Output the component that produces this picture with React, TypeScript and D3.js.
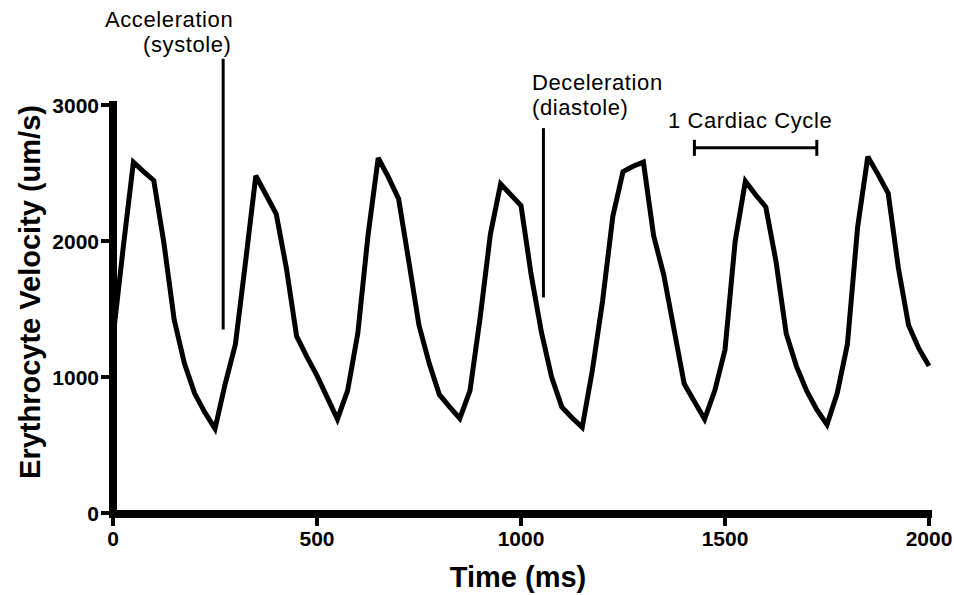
import React from "react";
import * as d3 from "d3";

const timeMs: number[] = [
  0, 25, 50, 75, 100, 125, 150, 175, 200, 225, 250, 275, 300, 325, 350, 375, 400, 425, 450, 475,
  500, 525, 550, 575, 600, 625, 650, 675, 700, 725, 750, 775, 800, 825, 850, 875, 900, 925, 950, 975,
  1000, 1025, 1050, 1075, 1100, 1125, 1150, 1175, 1200, 1225, 1250, 1275, 1300, 1325, 1350, 1375,
  1400, 1425, 1450, 1475, 1500, 1525, 1550, 1575, 1600, 1625, 1650, 1675, 1700, 1725, 1750, 1775,
  1800, 1825, 1850, 1875, 1900, 1925, 1950, 1975, 2000,
];
const velocity: number[] = [
  1290, 1950, 2580, 2510, 2445, 1980, 1420, 1100, 880, 740, 620, 950, 1240, 1850, 2480, 2340, 2200, 1800, 1300, 1150,
  1010, 850, 690, 900, 1320, 2040, 2610, 2470, 2310, 1850, 1380, 1100, 870, 780, 695, 900, 1440, 2050, 2420, 2340,
  2260, 1750, 1330, 1000, 780, 700, 630, 1050, 1560, 2180, 2510, 2550, 2580, 2040, 1750, 1350,
  950, 820, 690, 900, 1200, 2000, 2440, 2340, 2250, 1850, 1320, 1080, 900, 760, 650, 880,
  1240, 2100, 2620, 2490, 2350, 1800, 1380, 1210, 1080,
];
const xTicks: number[] = [0, 500, 1000, 1500, 2000];
const yTicks: number[] = [0, 1000, 2000, 3000];

const xTitle = "Time (ms)";
const yTitle = "Erythrocyte Velocity (um/s)";
const accelLabel = ["Acceleration", "(systole)"];
const decelLabel = ["Deceleration", "(diastole)"];
const cycleLabel = "1 Cardiac Cycle";
// annotation anchors in data units
const accelLine = { t: 270, from: 3340, to: 1350 };
const decelLine = { t: 1055, from: 2830, to: 1585 };
const cycleBar = { from: 1425, to: 1725, v: 2685 };

const W = 954;
const H = 595;
const FONT = "'Liberation Sans', Arial, Helvetica, sans-serif";

export default function App() {
  const x = d3.scaleLinear().domain([0, 2000]).range([113, 929]);
  const y = d3.scaleLinear().domain([0, 3000]).range([513, 105]);
  const pts = timeMs.map((t, i) => [t, velocity[i]] as [number, number]);
  const line = d3
    .line<[number, number]>()
    .x((d) => x(d[0]))
    .y((d) => y(d[1]));

  const axisY0 = y(0) + 1; // x-axis bar centre
  const annot = { fontSize: 22, letterSpacing: 0.6, fill: "#000" };
  return (
    <svg
      width={W}
      height={H}
      viewBox={`0 0 ${W} ${H}`}
      style={{ position: "absolute", left: 0, top: 0, background: "#fff" }}
      fontFamily={FONT}
    >
      <rect x={0} y={0} width={W} height={H} fill="#fff" />
      {/* data line */}
      <path
        d={line(pts) || ""}
        fill="none"
        stroke="#000"
        strokeWidth={5}
        strokeLinejoin="miter"
        strokeMiterlimit={3}
      />
      {/* y axis */}
      <line x1={x(0)} x2={x(0)} y1={y(3000) - 4} y2={axisY0 + 4} stroke="#000" strokeWidth={8} />
      {yTicks.map((v) => (
        <g key={"y" + v}>
          <line x1={x(0) - 12} x2={x(0)} y1={y(v)} y2={y(v)} stroke="#000" strokeWidth={4} />
          <text
            x={x(0) - 14}
            y={y(v) + 7.5}
            textAnchor="end"
            fontSize={21}
            fontWeight="bold"
            fill="#000"
          >
            {v}
          </text>
        </g>
      ))}
      {/* x axis */}
      <line x1={x(0) - 4} x2={x(2000) + 3} y1={axisY0} y2={axisY0} stroke="#000" strokeWidth={8} />
      {xTicks.map((t) => (
        <g key={"x" + t}>
          <line x1={x(t)} x2={x(t)} y1={axisY0} y2={axisY0 + 12} stroke="#000" strokeWidth={4} />
          <text x={x(t)} y={546} textAnchor="middle" fontSize={21} fontWeight="bold" fill="#000">
            {t}
          </text>
        </g>
      ))}
      {/* titles */}
      <text x={518} y={587} textAnchor="middle" fontSize={29} fontWeight="bold" fill="#000">
        {xTitle}
      </text>
      <text
        transform={`translate(40,${292}) rotate(-90)`}
        textAnchor="middle"
        fontSize={29}
        fontWeight="bold"
        fill="#000"
      >
        {yTitle}
      </text>
      {/* acceleration annotation */}
      <text x={105} y={27} {...annot}>
        {accelLabel[0]}
      </text>
      <text x={143} y={52} {...annot}>
        {accelLabel[1]}
      </text>
      <line
        x1={x(accelLine.t)}
        x2={x(accelLine.t)}
        y1={y(accelLine.from)}
        y2={y(accelLine.to)}
        stroke="#000"
        strokeWidth={3}
      />
      {/* deceleration annotation */}
      <text x={532} y={90} {...annot}>
        {decelLabel[0]}
      </text>
      <text x={532} y={115} {...annot}>
        {decelLabel[1]}
      </text>
      <line
        x1={x(decelLine.t)}
        x2={x(decelLine.t)}
        y1={y(decelLine.from)}
        y2={y(decelLine.to)}
        stroke="#000"
        strokeWidth={3}
      />
      {/* cardiac cycle bracket */}
      <text x={668} y={128} {...annot}>
        {cycleLabel}
      </text>
      <line
        x1={x(cycleBar.from)}
        x2={x(cycleBar.to)}
        y1={y(cycleBar.v)}
        y2={y(cycleBar.v)}
        stroke="#000"
        strokeWidth={3}
      />
      {[cycleBar.from, cycleBar.to].map((t) => (
        <line
          key={"c" + t}
          x1={x(t)}
          x2={x(t)}
          y1={y(cycleBar.v) - 8}
          y2={y(cycleBar.v) + 8}
          stroke="#000"
          strokeWidth={3}
        />
      ))}
    </svg>
  );
}
